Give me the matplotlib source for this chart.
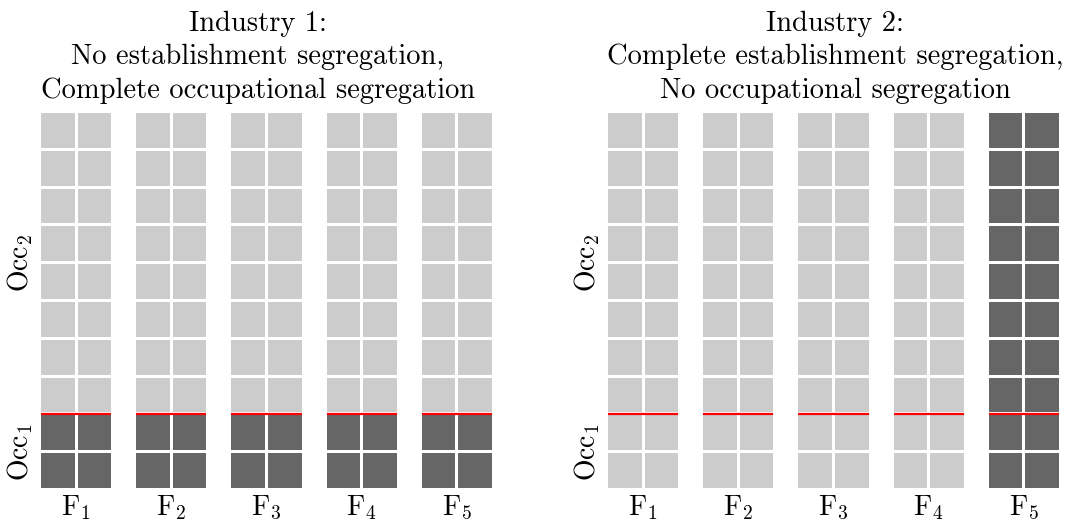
import matplotlib
matplotlib.use("Agg")
import matplotlib.pyplot as plt

plt.rcParams['font.family'] = ['cmr10', 'DejaVu Serif']
plt.rcParams['mathtext.fontset'] = 'cm'
plt.rcParams['axes.formatter.use_mathtext'] = True

# ---- data ----
firms = [r'$\mathrm{F}_{1}$', r'$\mathrm{F}_{2}$', r'$\mathrm{F}_{3}$', r'$\mathrm{F}_{4}$', r'$\mathrm{F}_{5}$']
occ_labels = [r'$\mathrm{Occ}_{1}$', r'$\mathrm{Occ}_{2}$']
n_cols = 2          # workers per row within a firm
n_rows = 10         # rows per firm
occ1_rows = 2       # rows belonging to Occ1 (bottom)
titles = ["Industry 1:\nNo establishment segregation,\nComplete occupational segregation",
          "Industry 2:\nComplete establishment segregation,\nNo occupational segregation"]
# number of dark rows (from bottom) per firm
ind1_dark_rows = [2, 2, 2, 2, 2]
ind2_dark_rows = [0, 0, 0, 0, 10]
dark_rows = [ind1_dark_rows, ind2_dark_rows]

light = '#cccccc'
dark = '#666666'
pitch = 2.6
gap = 0.08

fig = plt.figure(figsize=(10.69, 5.23), dpi=100)
W, H = 1069, 523
lefts = [41, 608]
title_x = [0.481, 0.504]
for p in range(2):
    ax = fig.add_axes([lefts[p] / W, (H - 488) / H, 451 / W, 375 / H])
    for i, nd in enumerate(dark_rows[p]):
        x0 = i * pitch
        for c in range(n_cols):
            for r in range(n_rows):
                col = dark if r < nd else light
                ax.bar(x0 + c + 0.5, 1 - gap, bottom=r + gap / 2, width=1 - gap,
                       color=col, linewidth=0)
        ax.hlines(occ1_rows, x0 + gap / 2, x0 + n_cols - gap / 2, color='#ff0000',
                  linewidth=1.6, zorder=3)
    ax.set_xlim(gap / 2, 4 * pitch + n_cols - gap / 2)
    ax.set_ylim(gap / 2, n_rows - gap / 2)
    ax.set_xticks([i * pitch + n_cols / 2 for i in range(5)])
    ax.set_xticklabels(firms, fontsize=20)
    ax.set_yticks([occ1_rows / 2, occ1_rows + (n_rows - occ1_rows) / 2])
    ax.set_yticklabels(occ_labels, fontsize=20, rotation=90, va='center')
    ax.tick_params(length=0, pad=4)
    for s in ax.spines.values():
        s.set_visible(False)
    ax.text(title_x[p], 1.025, titles[p], transform=ax.transAxes, ha='center', va='bottom',
            fontsize=20.5, linespacing=1.35)

fig.savefig('out.png', dpi=100)
